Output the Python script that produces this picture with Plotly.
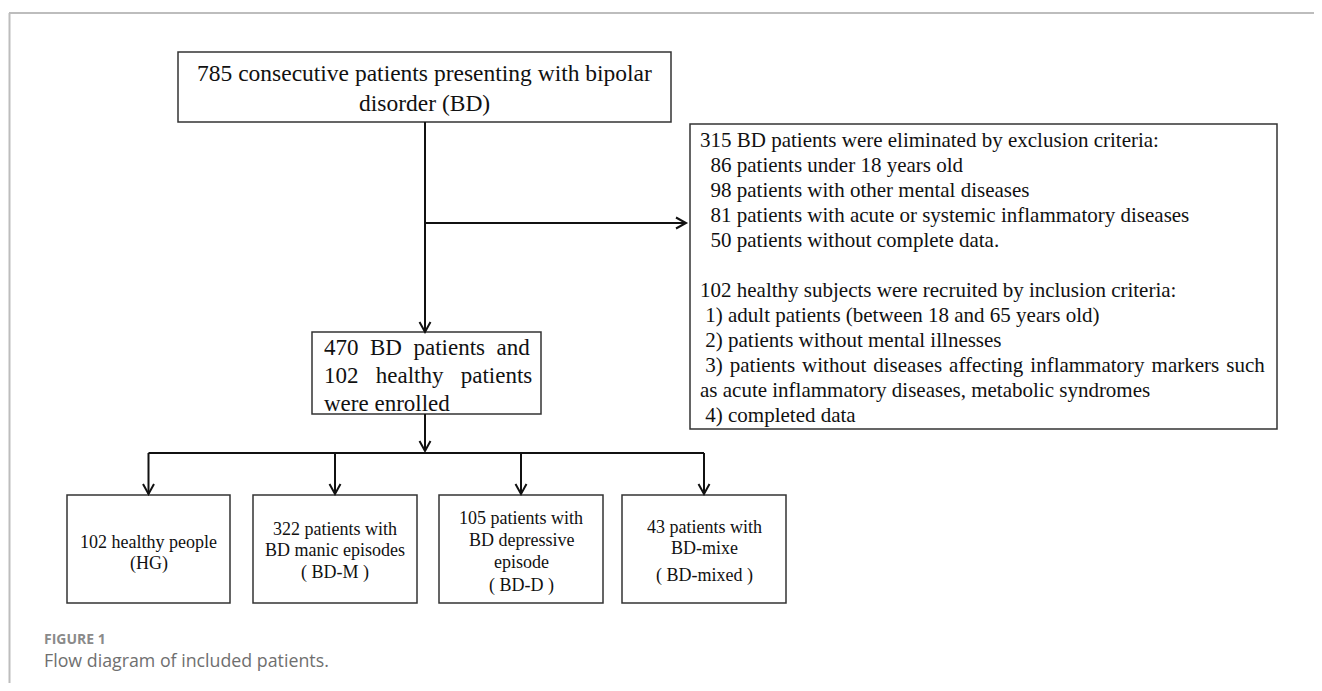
import plotly.graph_objects as go

W, H = 1322, 691          # browser window
PAD = 8                   # default body margin of the html page
SERIF = "Liberation Serif, Times New Roman, serif"
SANS = "Open Sans, Noto Sans, sans-serif"
NB = "\u00a0"
GAP = "\u2004"            # three-per-em space for the justified line


def sp(n):
    return NB * n


# ---------------- content ----------------
top_lines = ["785 consecutive patients presenting with bipolar", "disorder (BD)"]
justified_words = ["3)", "patients", "without", "diseases", "affecting", "inflammatory", "markers", "such"]
criteria_lines = [
    "315 BD patients were eliminated by exclusion criteria:",
    sp(2) + "86 patients under 18 years old",
    sp(2) + "98 patients with other mental diseases",
    sp(2) + "81 patients with acute or systemic inflammatory diseases",
    sp(2) + "50 patients without complete data.",
    "",
    "102 healthy subjects were recruited by inclusion criteria:",
    sp(1) + "1) adult patients (between 18 and 65 years old)",
    sp(1) + "2) patients without mental illnesses",
    sp(1) + GAP.join(justified_words),
    "as acute inflammatory diseases, metabolic syndromes",
    sp(1) + "4) completed data",
]
enrolled_lines = [
    "470" + sp(2) + "BD" + sp(2) + "patients" + sp(2) + "and",
    "102" + sp(3) + "healthy" + sp(3) + "patients",
    "were enrolled",
]
group_lines = [
    ["102 healthy people", "(HG)"],
    ["322 patients with", "BD manic episodes", "( BD-M )"],
    ["105 patients with", "BD depressive", "episode", "( BD-D )"],
    ["43 patients with", "BD-mixe", "( BD-mixed )"],
]
caption_label = "FIGURE 1"
caption_text = "Flow diagram of included patients."

# ---------------- layout geometry (screen pixels) ----------------
top_box = (178, 52, 671, 122)
crit_box = (690, 124, 1277, 429)
enr_box = (312, 332, 541, 414)
grp_x0 = [67, 253, 439, 622]
grp_x1 = [230, 417, 603, 786]
grp_y = (495, 603)
trunk_x = 425
side_y = 223
bus_y = 453

BOX_COLOR = "#333333"
LINE_COLOR = "#111111"

fig = go.Figure()
shapes = []
annotations = []


def rect(b):
    shapes.append(dict(type="rect", xref="x", yref="y", x0=b[0], y0=b[1], x1=b[2], y1=b[3],
                       line=dict(color=BOX_COLOR, width=1.5), fillcolor="rgba(0,0,0,0)"))


def seg(x0, y0, x1, y1, w=2):
    shapes.append(dict(type="line", xref="x", yref="y", x0=x0, y0=y0, x1=x1, y1=y1,
                       line=dict(color=LINE_COLOR, width=w)))


def chevron(x, y, direction):
    a, l = 5.5, 10
    if direction == "down":
        p = f"M {x - a},{y - l} L {x},{y} L {x + a},{y - l}"
    else:
        p = f"M {x - l},{y - a} L {x},{y} L {x - l},{y + a}"
    shapes.append(dict(type="path", xref="x", yref="y", path=p,
                       line=dict(color=LINE_COLOR, width=2)))


def text(x, y, s, size, xanchor="center", font=SERIF, color="#111111", bold=False):
    if bold:
        s = "<b>" + s + "</b>"
    annotations.append(dict(x=x, y=y, xref="x", yref="y", text=s, showarrow=False,
                            xanchor=xanchor, yanchor="middle",
                            font=dict(family=font, size=size, color=color)))


# frame lines (page decoration)
shapes.append(dict(type="line", xref="x", yref="y", x0=9, y0=13, x1=W, y1=13,
                   line=dict(color="#bdbdbd", width=2)))
shapes.append(dict(type="line", xref="x", yref="y", x0=9.5, y0=13, x1=9.5, y1=H,
                   line=dict(color="#bdbdbd", width=2)))

# boxes
rect(top_box)
rect(crit_box)
rect(enr_box)
for x0, x1 in zip(grp_x0, grp_x1):
    rect((x0, grp_y[0], x1, grp_y[1]))

# connectors
seg(trunk_x, top_box[3], trunk_x, enr_box[1])
chevron(trunk_x, enr_box[1], "down")
seg(trunk_x, side_y, crit_box[0] - 4, side_y)
chevron(crit_box[0] - 4, side_y, "right")
seg(trunk_x, enr_box[3], trunk_x, bus_y - 2)
chevron(trunk_x, bus_y - 2, "down")
centers = [(a + b) / 2 for a, b in zip(grp_x0, grp_x1)]
seg(centers[0], bus_y, centers[-1], bus_y)
for c in centers:
    seg(c, bus_y, c, grp_y[0] - 1)
    chevron(c, grp_y[0] - 1, "down")

# texts
tcx = (top_box[0] + top_box[2]) / 2
for i, s in enumerate(top_lines):
    text(tcx, 73 + 30 * i, s, 23.5)

for i, s in enumerate(criteria_lines):
    if s:
        text(crit_box[0] + 8, 140 + 25 * i, s, 21, xanchor="left")

for i, s in enumerate(enrolled_lines):
    text(enr_box[0] + 10, 347 + 28 * i, s, 23, xanchor="left")

grp_cy = [[542, 563], [529, 550, 572], [518, 540, 562, 585], [527, 548, 575]]
for c, lines, ys in zip(centers, group_lines, grp_cy):
    for s, y in zip(lines, ys):
        text(c, y, s, 18)

text(42, 638, caption_label, 14, xanchor="left", font=SANS, color="#8a8a8a", bold=True)
text(42, 660, caption_text, 17.8, xanchor="left", font=SANS, color="#6f6f6f")

fig.update_layout(
    width=W - 2 * PAD, height=H - 2 * PAD, autosize=False,
    margin=dict(l=0, r=0, t=0, b=0),
    paper_bgcolor="white", plot_bgcolor="white",
    xaxis=dict(range=[PAD, W - PAD], visible=False, fixedrange=True),
    yaxis=dict(range=[H - PAD, PAD], visible=False, fixedrange=True),
    shapes=shapes, annotations=annotations, showlegend=False,
)
fig.write_html("out.html", config={"displayModeBar": False})
